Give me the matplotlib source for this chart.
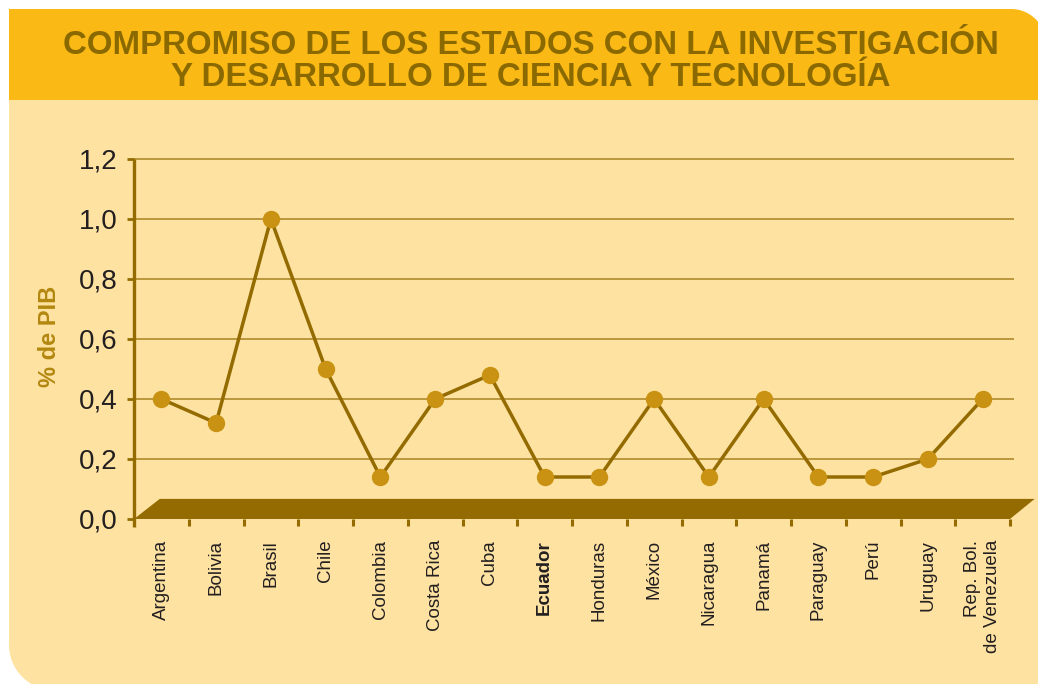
import matplotlib
matplotlib.use("Agg")
import matplotlib.pyplot as plt
import numpy as np
from matplotlib.patches import Polygon

plt.rcParams['font.family'] = ['Liberation Sans', 'DejaVu Sans']

# data
paises = ['Argentina', 'Bolivia', 'Brasil', 'Chile', 'Colombia', 'Costa Rica',
          'Cuba', 'Ecuador', 'Honduras', 'México', 'Nicaragua', 'Panamá',
          'Paraguay', 'Perú', 'Uruguay', 'Rep. Bol.\nde Venezuela']
pib = [0.40, 0.32, 1.00, 0.50, 0.14, 0.40, 0.48, 0.14,
       0.14, 0.40, 0.14, 0.40, 0.14, 0.14, 0.20, 0.40]
yticks = [0.0, 0.2, 0.4, 0.6, 0.8, 1.0, 1.2]
titulo = ['COMPROMISO DE LOS ESTADOS CON LA INVESTIGACIÓN',
          'Y DESARROLLO DE CIENCIA Y TECNOLOGÍA']

# colours
naranja = '#FBB916'
crema = '#FEE2A1'
oscuro = '#936B00'
punto = '#C99212'
rejilla = '#A98420'
texto_tit = '#8A6A00'

W, H = 1038, 684
fig = plt.figure(figsize=(W / 100, H / 100), dpi=100)
fig.patch.set_facecolor('white')

# background panel (pixel coords, y down)
bg = fig.add_axes([0, 0, 1, 1], zorder=-10)
bg.set_xlim(0, W)
bg.set_ylim(H, 0)
bg.axis('off')

t = np.linspace(0, np.pi / 2, 30)
r1, c1 = 35, (1011, 44)
cab = [(9, 100), (9, 9)] + list(zip(c1[0] + r1 * np.sin(t), c1[1] - r1 * np.cos(t))) + [(1046, 100)]
bg.add_patch(Polygon(cab, closed=True, facecolor=naranja, edgecolor='none'))
r2, c2 = 45, (54, 645)
cuerpo = [(9, 100), (1046, 100), (1046, 690)] + \
    list(zip(c2[0] - r2 * np.sin(t), c2[1] + r2 * np.cos(t))) + [(9, 100)]
bg.add_patch(Polygon(cuerpo, closed=True, facecolor=crema, edgecolor='none'))

# title
for i, linea in enumerate(titulo):
    fig.text(531 / W, 1 - (54 + 32 * i) / H, linea, ha='center', va='baseline',
             fontsize=23.8, fontweight='bold', color=texto_tit)

fig.text(50 / W, 1 - 336 / H, '% de PIB', rotation=90, ha='center', va='center',
         fontsize=17, fontweight='bold', color='#B3870F')

# main axes
ax = fig.add_axes([134 / W, (H - 519) / H, 876 / W, 360 / H])
ax.set_facecolor('none')
ax.set_xlim(-0.5, len(paises) - 0.5)
ax.set_ylim(0, 1.2)
for s in ax.spines.values():
    s.set_visible(False)

x = np.arange(len(paises))

# gridlines
ax.hlines(yticks[1:], -0.5, len(paises) - 0.43, color=rejilla, lw=1.1, zorder=1, clip_on=False)

# 3d floor
dx, dh = 0.47, 0.067
x0, x1 = -0.5, len(paises) - 0.5
piso = [(x0, 0), (x1, 0), (x1 + dx - 0.02, dh), (x0 + dx, dh)]
ax.add_patch(Polygon(piso, closed=True, facecolor=oscuro, edgecolor='none', zorder=2, clip_on=False))

# y axis line
ax.plot([x0, x0], [-0.027, 1.2], color=oscuro, lw=2.4, zorder=4, clip_on=False, solid_capstyle='butt')

ax.plot(x, pib, color=oscuro, lw=2.5, marker='o', ms=11.5, mfc=punto, mec=punto,
        zorder=5, clip_on=False)

ax.set_yticks(yticks)
ax.set_yticklabels([f'{v:.1f}'.replace('.', ',') for v in yticks])
ax.tick_params(axis='y', length=5, width=2, color=oscuro, direction='out', pad=7,
               labelsize=20, labelcolor='#231F20')

ax.set_xticks(x)
ax.set_xticklabels(paises, rotation=90, va='top', ha='center', fontsize=13.5, color='#231F20')
ax.set_xticks(np.arange(1, len(paises) + 1) - 0.5, minor=True)
ax.tick_params(axis='x', which='major', length=0, pad=15)
ax.tick_params(axis='x', which='minor', length=5, width=2.2, color=oscuro, direction='out')
for lab in ax.get_xticklabels():
    lab.set_multialignment('right')
ax.get_xticklabels()[paises.index('Ecuador')].set_fontweight('bold')

fig.savefig('out.png', dpi=100)
